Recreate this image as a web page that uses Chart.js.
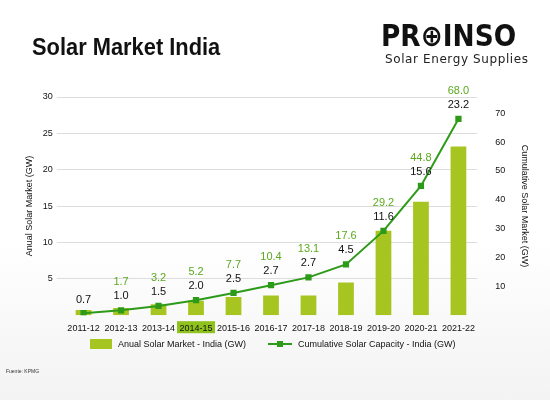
<!DOCTYPE html>
<html><head><meta charset="utf-8">
<script src="https://cdn.jsdelivr.net/npm/chart.js@4/dist/chart.umd.min.js"></script>
<style>
body{margin:0;width:550px;height:400px;overflow:hidden;background:linear-gradient(#fff 0%,#fff 60%,#f3f3f3 100%);font-family:"Liberation Sans",Arial,sans-serif;position:relative}
#t{position:absolute;left:32px;top:34px;font:bold 23px "Liberation Sans",sans-serif;color:#111;transform:scaleX(0.95);transform-origin:left}
#logo{position:absolute;left:381px;top:18px;font:bold 30px "DejaVu Sans",sans-serif;color:#111;letter-spacing:0px;transform:scaleX(0.88);transform-origin:left}
#sub{position:absolute;left:385px;top:52px;font:12px "DejaVu Sans",sans-serif;color:#222;letter-spacing:0.6px}
#src{position:absolute;left:6px;top:368px;font:5px sans-serif;color:#333}
#lg{position:absolute;top:339px;left:90px;font:9px "Liberation Sans",sans-serif;color:#111}
#lg span{position:absolute;white-space:nowrap}
canvas{position:absolute;left:0;top:0}
</style></head><body>
<canvas id="c" width="550" height="400"></canvas>
<div id="t">Solar Market India</div>
<div id="logo">PR⊕INSO</div>
<div id="sub">Solar Energy Supplies</div>
<div id="lg"><span style="left:0;top:0;width:22px;height:10px;background:#a6c520"></span><span style="left:28px;top:0">Anual Solar Market - India (GW)</span>
<span style="left:178px;top:4px;width:24px;height:2px;background:#2e9a1a"></span><span style="left:187px;top:2px;width:6px;height:6px;background:#2e9a1a"></span><span style="left:208px;top:0">Cumulative Solar Capacity - India (GW)</span></div>
<div id="src">Fuente: KPMG</div>
<script>
const categories=["2011-12","2012-13","2013-14","2014-15","2015-16","2016-17","2017-18","2018-19","2019-20","2020-21","2021-22"];
const annual=[0.7,1.0,1.5,2.0,2.5,2.7,2.7,4.5,11.6,15.6,23.2];
const cumulative=[0.7,1.7,3.2,5.2,7.7,10.4,13.1,17.6,29.2,44.8,68.0];
const leftTicks=[5,10,15,20,25,30];
const rightTicks=[10,20,30,40,50,60,70];
const labels={id:'lbl',afterDatasetsDraw(ch){
 const c=ch.ctx,x=ch.scales.x,y2=ch.scales.y2;
 c.save();c.font='11px "Liberation Sans",sans-serif';c.textAlign='center';
 categories.forEach((k,i)=>{
  const px=x.getPixelForValue(i),py=y2.getPixelForValue(cumulative[i]);
  let a=annual[i].toFixed(1),cu=cumulative[i].toFixed(1);
  if(i==0){c.fillStyle='#111';c.fillText(a,px,py-10);return;}
  c.fillStyle='#5aaa1e';c.fillText(cu,px,py-25);
  c.fillStyle='#111';c.fillText(a,px,py-11);
 });
 c.restore();}};
const xbg={id:'xbg',beforeDraw(ch){const x=ch.scales.x,c=ch.ctx;const px=x.getPixelForValue(3);c.fillStyle='#8fc21c';c.fillRect(px-19,x.top+6,38,12);}};
new Chart(document.getElementById('c'),{
 data:{labels:categories,datasets:[
  {type:'line',data:cumulative,yAxisID:'y2',borderColor:'#2e9a1a',backgroundColor:'#2e9a1a',borderWidth:2,pointStyle:'rect',pointRadius:3,tension:0,order:0},
  {type:'bar',data:annual,yAxisID:'y',backgroundColor:'#a6c520',barPercentage:0.42,categoryPercentage:1,order:1}]},
 plugins:[labels,xbg],
 options:{responsive:false,animation:false,
  layout:{padding:{left:20,right:16,top:97,bottom:66}},
  plugins:{legend:{display:false},tooltip:{enabled:false}},
  scales:{
   x:{offset:true,grid:{display:false},border:{display:false},ticks:{color:'#111',font:{size:9},padding:0,maxRotation:0,minRotation:0,autoSkip:false}},
   y:{position:'left',min:0,max:30,afterBuildTicks:a=>{a.ticks=leftTicks.map(v=>({value:v}))},
      grid:{color:'#ddd'},border:{display:false},ticks:{color:'#111',font:{size:9},padding:4},
      title:{display:true,text:'Anual Solar Market (GW)',color:'#111',font:{size:9}}},
   y2:{position:'right',min:0,max:75.6,afterBuildTicks:a=>{a.ticks=rightTicks.map(v=>({value:v}))},
      grid:{display:false},border:{display:false},ticks:{color:'#111',font:{size:9},padding:10},
      title:{display:true,text:'Cumulative Solar Market (GW)',color:'#111',font:{size:9}}}
  }}});
</script></body></html>
